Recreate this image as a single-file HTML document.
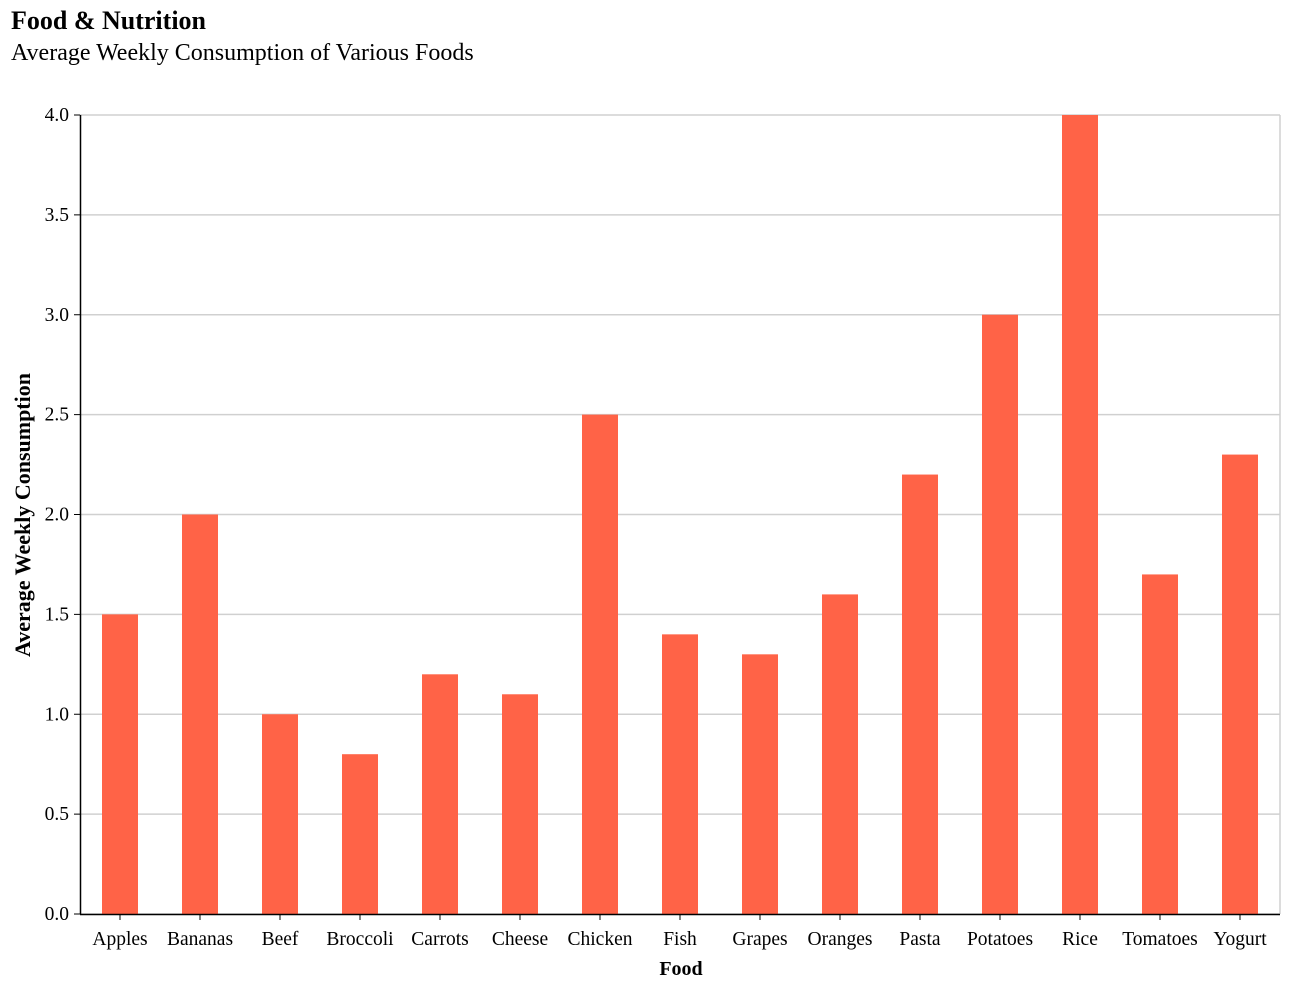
<!DOCTYPE html>
<html><head><meta charset="utf-8"><style>
body{margin:0;background:#fff;}
svg text{font-family:"Liberation Serif",serif;}
</style></head><body>
<svg id="chart" width="1290" height="988">
<text x="11" y="29" font-size="26" font-weight="bold">Food &amp; Nutrition</text>
<text x="11" y="60" font-size="24">Average Weekly Consumption of Various Foods</text>
<g id="grid"></g><g id="bars"></g><g id="axes"></g>
<text x="681" y="975" font-size="20" font-weight="bold" text-anchor="middle">Food</text>
<text transform="translate(30,515) rotate(-90)" font-size="22" font-weight="bold" text-anchor="middle">Average Weekly Consumption</text>
</svg>
<script>
const categories=["Apples","Bananas","Beef","Broccoli","Carrots","Cheese","Chicken","Fish","Grapes","Oranges","Pasta","Potatoes","Rice","Tomatoes","Yogurt"];
const values=[1.5,2.0,1.0,0.8,1.2,1.1,2.5,1.4,1.3,1.6,2.2,3.0,4.0,1.7,2.3];
const yTicks=[0,0.5,1,1.5,2,2.5,3,3.5,4];
const X0=80,X1=1280,Y0=914,Y1=115,YMAX=4;
const step=(X1-X0)/categories.length,bw=36;
const xs=i=>X0+step*i+step/2;
const ys=v=>Y0-(v/YMAX)*(Y0-Y1);
const NS="http://www.w3.org/2000/svg";
function mk(tag,attrs,parent,txt){const e=document.createElementNS(NS,tag);for(const k in attrs)e.setAttribute(k,attrs[k]);if(txt!=null)e.textContent=txt;document.getElementById(parent).appendChild(e);return e;}
yTicks.forEach(t=>{
 const g=mk('line',{x1:X0,x2:X1,y1:ys(t),y2:ys(t),stroke:'#d0d0d0','stroke-width':1.5},'grid');
 
 
 const tk=mk('line',{x1:X0-6,x2:X0,y1:ys(t),y2:ys(t),stroke:'#000'},'axes');
 
 
 const l=mk('text',{x:X0-11,y:ys(t)+6,'font-size':19.5,'text-anchor':'end'},'axes',t.toFixed(1));
 
 
});
const rb=mk('line',{x1:X1,x2:X1,y1:Y1,y2:Y0,stroke:'#d0d0d0','stroke-width':1.5},'grid');


categories.forEach((c,i)=>{
 const b=mk('rect',{x:xs(i)-bw/2,y:ys(values[i]),width:bw,height:Y0-ys(values[i]),fill:'#ff6347'},'bars');
 
 
 const tk=mk('line',{x1:xs(i),x2:xs(i),y1:Y0,y2:Y0+6,stroke:'#000'},'axes');
 
 
 const l=mk('text',{x:xs(i),y:Y0+31,'font-size':19.5,'text-anchor':'middle'},'axes',c);
 
 
});
const xa=mk('line',{x1:X0,x2:X1,y1:Y0+0.5,y2:Y0+0.5,stroke:'#000','stroke-width':1.5},'axes');


const ya=mk('line',{x1:X0+0.5,x2:X0+0.5,y1:Y1,y2:Y0,stroke:'#000','stroke-width':1.5},'axes');


</script>
</body></html>
